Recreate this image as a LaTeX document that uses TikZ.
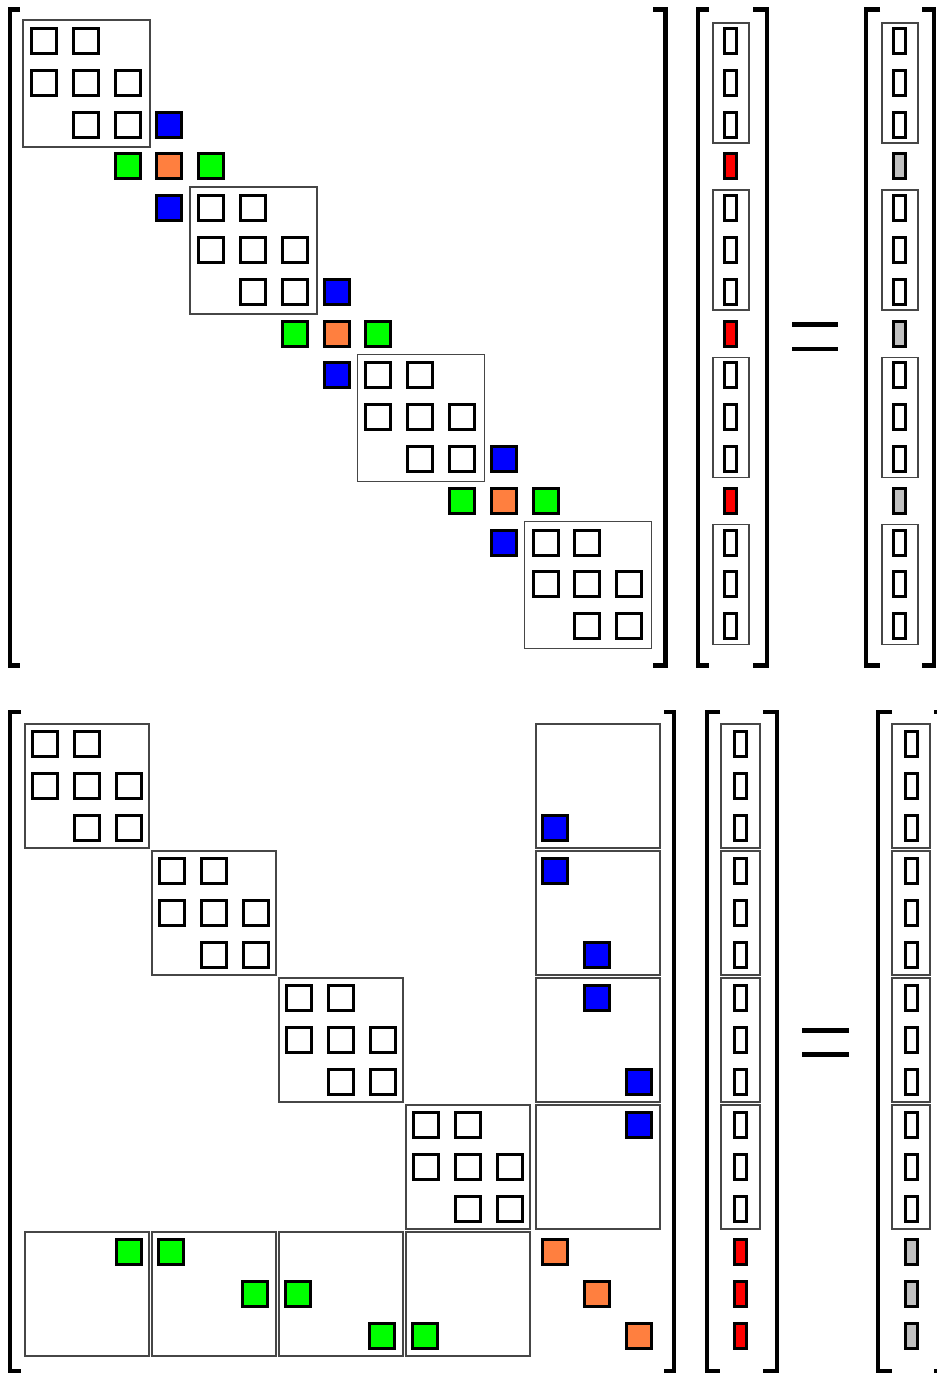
\documentclass[tikz,border=0pt]{standalone}
\usetikzlibrary{calc}
\definecolor{cblue}{RGB}{0,0,255}
\definecolor{cgreen}{RGB}{0,255,0}
\definecolor{corange}{RGB}{255,127,63}
\definecolor{cred}{RGB}{255,0,0}
\definecolor{cgray}{RGB}{192,192,192}
\definecolor{boxgray}{RGB}{70,70,70}
\tikzset{
  sqbox/.style={draw=black,line width=2.25pt,inner sep=0pt,minimum size=18.75pt,fill=white},
  tallbox/.style={draw=black,line width=2.25pt,inner sep=0pt,minimum width=9pt,minimum height=18.75pt,fill=white},
  blockbox/.style={draw=boxgray,line width=1.1pt},
  brack/.style={line width=3.4pt,line join=miter},
  eqline/.style={line width=3.4pt}
}
\newcommand\mysq[4]{\node[sqbox,fill=#4] (#1) at (#2,#3) {};}
\newcommand\mytall[4]{\node[tallbox,fill=#4] (#1) at (#2,#3) {};}
\newcommand\mylbr[5]{\draw[brack] (#2+#5,#3) -- (#2,#3) -- (#2,#4) -- (#2+#5,#4); \coordinate (#1) at (#2,#3);}
\newcommand\myrbr[5]{\draw[brack] (#2-#5,#3) -- (#2,#3) -- (#2,#4) -- (#2-#5,#4); \coordinate (#1) at (#2,#3);}
\begin{document}
\begin{tikzpicture}[x=0.75pt,y=-0.75pt]
\useasboundingbox (0,0) rectangle (936,1376);
\fill[white] (0,0) rectangle (936,1376);
% ================= TOP SECTION =================
\def\P{41.8}
% diagonal blocks
\foreach \k in {0,1,2,3}{
  \pgfmathsetmacro\bx{23+4*\P*\k}
  \pgfmathsetmacro\by{20+4*\P*\k}
  \draw[blockbox] (\bx,\by) rectangle ++(127,127);
  \foreach \r/\c in {0/0,0/1,1/0,1/1,1/2,2/1,2/2}{
    \pgfmathsetmacro\cx{44+\P*(4*\k+\c)}
    \pgfmathsetmacro\cy{41+\P*(4*\k+\r)}
    \mysq{tb\k-\r-\c}{\cx}{\cy}{white}
  }
}
% coupling entries
\foreach \k in {0,1,2}{
  \pgfmathsetmacro\base{4*\k}
  \pgfmathsetmacro\cx{44+\P*(\base+3)}\pgfmathsetmacro\cy{41+\P*(\base+2)}
  \mysq{tbu\k}{\cx}{\cy}{cblue}
  \pgfmathsetmacro\cy{41+\P*(\base+3)}
  \pgfmathsetmacro\cxa{44+\P*(\base+2)}\pgfmathsetmacro\cxb{44+\P*(\base+3)}\pgfmathsetmacro\cxc{44+\P*(\base+4)}
  \mysq{tga\k}{\cxa}{\cy}{cgreen}
  \mysq{to\k}{\cxb}{\cy}{corange}
  \mysq{tgb\k}{\cxc}{\cy}{cgreen}
  \pgfmathsetmacro\cy{41+\P*(\base+4)}
  \mysq{tbl\k}{\cxb}{\cy}{cblue}
}
% vectors
\foreach \k in {0,1,2,3}{
  \pgfmathsetmacro\by{23+4*\P*\k}
  \draw[blockbox] (713,\by) rectangle (749,\by+120);
  \draw[blockbox] (882,\by) rectangle (918,\by+120);
  \foreach \r in {0,1,2}{
    \pgfmathsetmacro\cy{41+\P*(4*\k+\r)}
    \mytall{tx\k-\r}{730.5}{\cy}{white}
    \mytall{ty\k-\r}{899.5}{\cy}{white}
  }
}
\foreach \k in {0,1,2}{
  \pgfmathsetmacro\cy{41+\P*(4*\k+3)}
  \mytall{txr\k}{730.5}{\cy}{cred}
  \mytall{tyg\k}{899.5}{\cy}{cgray}
}
% brackets
\mylbr{tAL}{10}{9.5}{665.5}{10}
\myrbr{tAR}{665.5}{9.5}{665.5}{12.5}
\mylbr{tXL}{698}{9.5}{665.5}{11}
\myrbr{tXR}{767}{9.5}{665.5}{14}
\mylbr{tYL}{866}{9.5}{665.5}{14}
\myrbr{tYR}{934}{9.5}{665.5}{12}
% equal sign
\draw[eqline] (792,324.5) -- (838,324.5);
\draw[eqline] (792,349) -- (838,349);
% ================= BOTTOM SECTION =================
\foreach \b in {0,1,2,3}{
  \pgfmathsetmacro\bx{25+127*\b}
  \pgfmathsetmacro\by{724+127*\b}
  \draw[blockbox] (\bx,\by) rectangle ++(124,124);
  \foreach \r/\c in {0/0,0/1,1/0,1/1,1/2,2/1,2/2}{
    \pgfmathsetmacro\cx{45+42*\c+127*\b}
    \pgfmathsetmacro\cy{744+42*\r+127*\b}
    \mysq{bb\b-\r-\c}{\cx}{\cy}{white}
  }
  \draw[blockbox] (536,\by) rectangle (660,\by+124);
  \draw[blockbox] (\bx,1232) rectangle ++(124,124);
}
% blue entries in right column
\mysq{bc0}{555}{828}{cblue}
\mysq{bc1a}{555}{871}{cblue}
\mysq{bc1b}{597}{955}{cblue}
\mysq{bc2a}{597}{998}{cblue}
\mysq{bc2b}{639}{1082}{cblue}
\mysq{bc3}{639}{1125}{cblue}
% green entries in bottom row
\mysq{bg0}{129}{1252}{cgreen}
\mysq{bg1a}{171}{1252}{cgreen}
\mysq{bg1b}{255}{1294}{cgreen}
\mysq{bg2a}{298}{1294}{cgreen}
\mysq{bg2b}{382}{1336}{cgreen}
\mysq{bg3}{425}{1336}{cgreen}
% orange diagonal
\mysq{bo0}{555}{1252}{corange}
\mysq{bo1}{597}{1294}{corange}
\mysq{bo2}{639}{1336}{corange}
% vectors
\foreach \b in {0,1,2,3}{
  \pgfmathsetmacro\by{724+127*\b}
  \draw[blockbox] (721,\by) rectangle (760,\by+124);
  \draw[blockbox] (892,\by) rectangle (930,\by+124);
  \foreach \r in {0,1,2}{
    \pgfmathsetmacro\cy{744+42*\r+127*\b}
    \mytall{bx\b-\r}{740.5}{\cy}{white}
    \mytall{by\b-\r}{911}{\cy}{white}
  }
}
\foreach \r in {0,1,2}{
  \pgfmathsetmacro\cy{1252+42*\r}
  \mytall{bxr\r}{740.5}{\cy}{cred}
  \mytall{byg\r}{911}{\cy}{cgray}
}
% brackets
\mylbr{bAL}{10}{712}{1371}{11}
\myrbr{bAR}{674}{712}{1371}{10}
\mylbr{bXL}{707}{712}{1371}{13}
\myrbr{bXR}{777}{712}{1371}{14}
\mylbr{bYL}{878}{712}{1371}{14}
\myrbr{bYR}{948}{712}{1371}{14}
% equal sign
\draw[eqline] (802,1030.5) -- (849,1030.5);
\draw[eqline] (802,1054.5) -- (849,1054.5);
\end{tikzpicture}
\end{document}
